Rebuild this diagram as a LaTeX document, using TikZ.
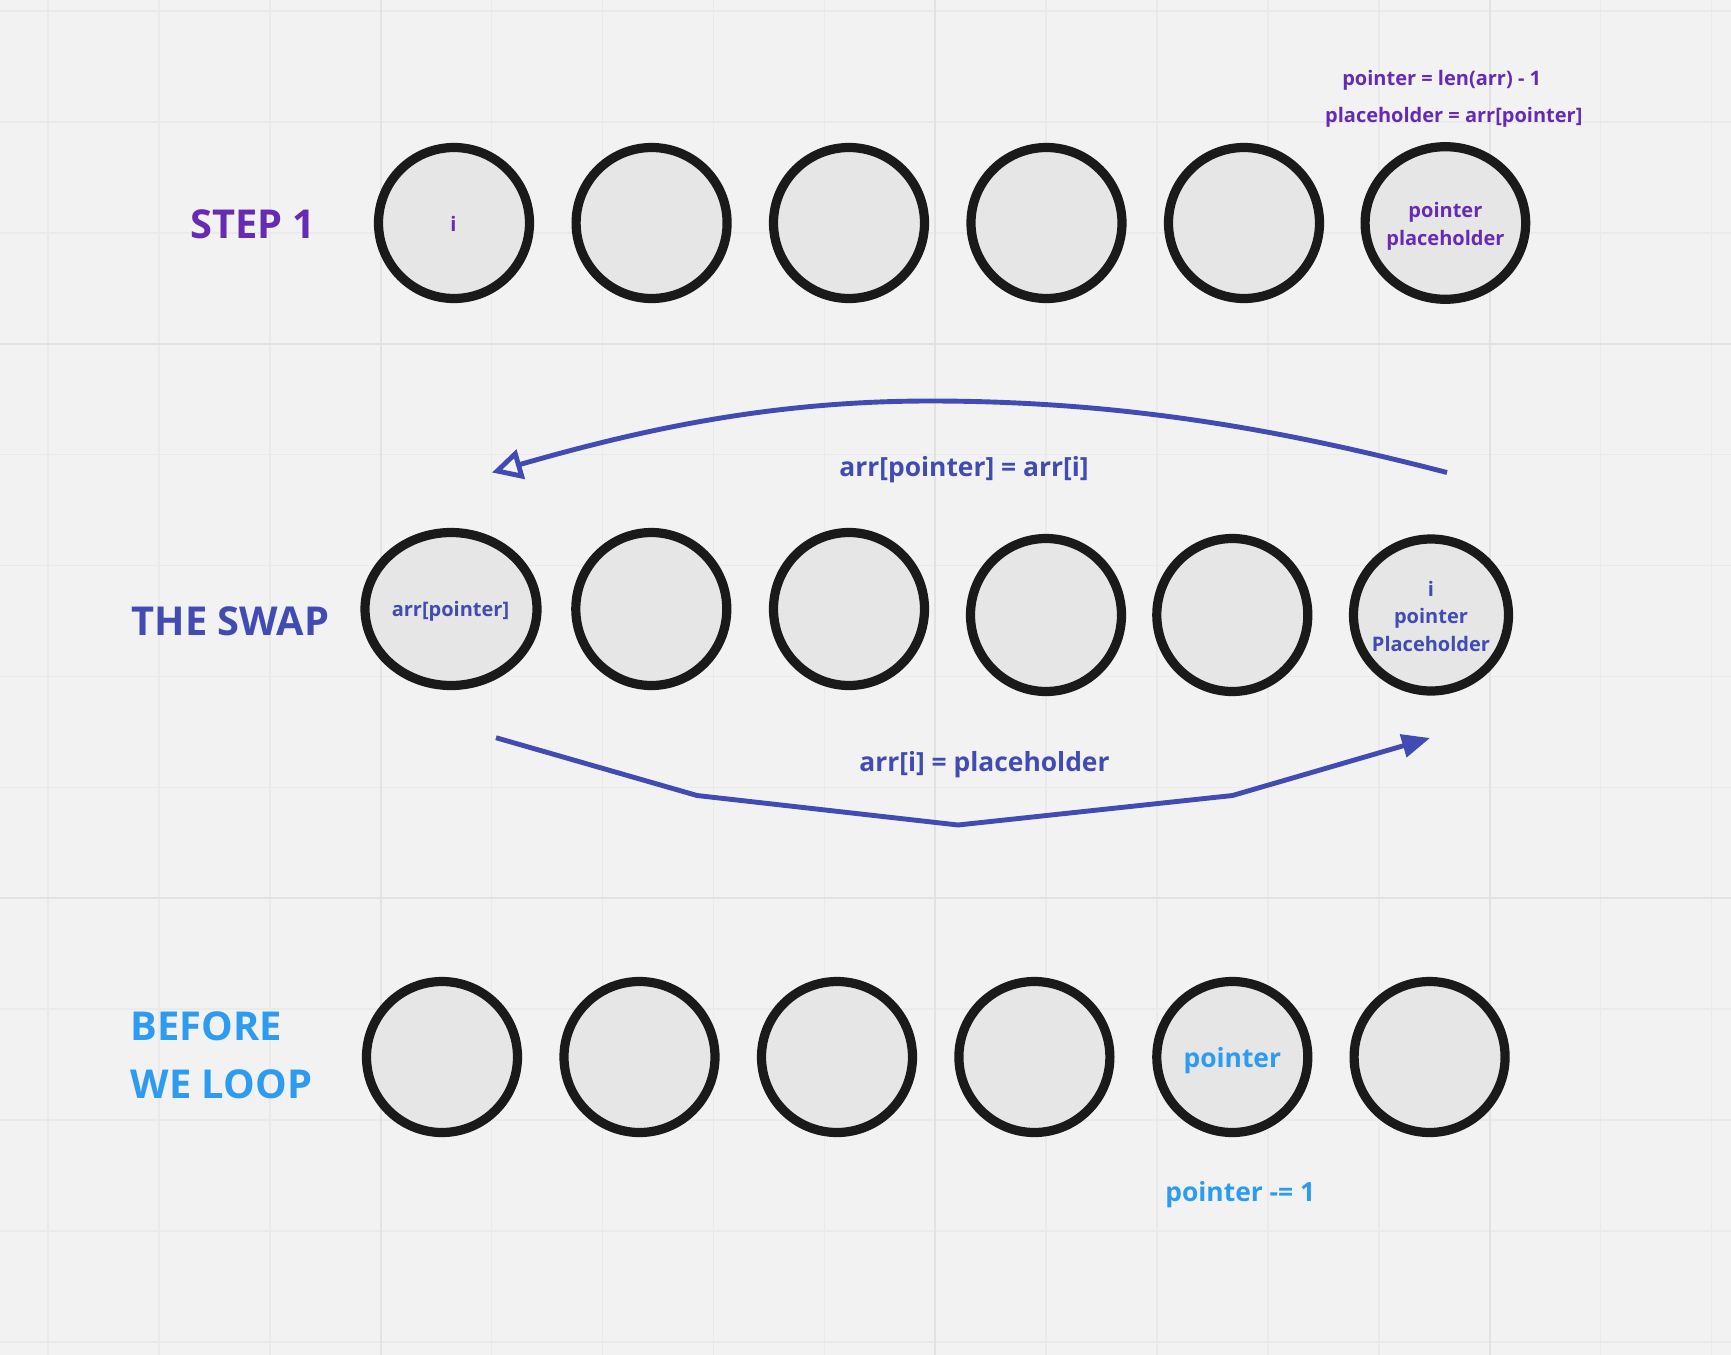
\documentclass[tikz,border=0pt]{standalone}
\usepackage{fontspec}
\setmainfont{Open Sans}
\usetikzlibrary{shapes.geometric,arrows.meta}
\definecolor{bg}{HTML}{F2F2F2}
\definecolor{gridminor}{HTML}{EAEAEA}
\definecolor{gridmajor}{HTML}{E2E2E2}
\definecolor{cellfill}{HTML}{E6E6E6}
\definecolor{ink}{HTML}{1A1A1A}
\definecolor{mpurple}{HTML}{652CB3}
\definecolor{mindigo}{HTML}{414BB2}
\definecolor{mblue}{HTML}{2D9BF0}
\tikzset{
  cell/.style={ellipse, draw=ink, fill=cellfill, line width=4.6pt, minimum width=75.5pt, minimum height=75.5pt, inner sep=0pt},
  small/.style={inner sep=0pt, align=center, font=\fontsize{10}{13.65}\selectfont\bfseries},
  medium/.style={inner sep=0pt, align=center, font=\fontsize{13.2}{17}\selectfont\bfseries},
  heading/.style={inner sep=0pt, font=\fontsize{19.9}{29}\selectfont\bfseries},
  conn/.style={draw=mindigo, line width=2.45pt, line join=round},
  gminor/.style={draw=gridminor, line width=0.75pt},
  gmajor/.style={draw=gridmajor, line width=0.9pt}
}
\begin{document}
\begin{tikzpicture}[x=0.5pt,y=-0.5pt]
\useasboundingbox (0,0) rectangle (1731,1355);
\fill[bg] (0,0) rectangle (1731,1355);
% grid
\foreach \k in {0,...,15} {\draw[gminor] ({48+110.9*\k},0) -- ({48+110.9*\k},1355);}
\foreach \k in {0,...,12} {\draw[gminor] (0,{11+110.9*\k}) -- (1731,{11+110.9*\k});}
\foreach \k in {3,8,13} {\draw[gmajor] ({48+110.9*\k},0) -- ({48+110.9*\k},1355);}
\foreach \k in {3,8} {\draw[gmajor] (0,{11+110.9*\k}) -- (1731,{11+110.9*\k});}

% headings
\node[heading, text=mpurple, anchor=base] (h1) at (253,238.3) {STEP 1};
\node[heading, text=mindigo, anchor=base] (h2) at (230.5,635) {THE SWAP};
\node[heading, text=mblue, anchor=base west] (h3a) at (130.5,1040) {BEFORE};
\node[heading, text=mblue, anchor=base west] (h3b) at (130.5,1098) {WE LOOP};

% row 1
\node[cell] (c11) at (454,223) {};
\node[cell] (c12) at (651.6,223) {};
\node[cell] (c13) at (849,223) {};
\node[cell] (c14) at (1046.5,223) {};
\node[cell] (c15) at (1244,223) {};
\node[cell, minimum width=80.3pt, minimum height=76.3pt] (c16) at (1445.4,223) {};
\node[small, text=mpurple, anchor=base] (t11) at (453.5,231) {i};
\node[small, text=mpurple] (t16) at (1445.4,226.3) {pointer\\placeholder};
\node[small, text=mpurple, anchor=base] (n1) at (1441.7,85) {pointer = len(arr) - 1};
\node[small, text=mpurple, anchor=base] (n2) at (1453.8,122.7) {placeholder = arr[pointer]};

% row 2
\node[cell, minimum width=86pt, minimum height=76.5pt] (c21) at (451,609) {};
\node[cell, minimum height=76.5pt] (c22) at (651.3,609) {};
\node[cell, minimum height=76.5pt] (c23) at (849,609) {};
\node[cell, minimum height=76.5pt] (c24) at (1046,615) {};
\node[cell, minimum height=76.5pt] (c25) at (1232.3,615) {};
\node[cell, minimum width=77.5pt, minimum height=76pt] (c26) at (1431,615) {};
\node[small, text=mindigo, anchor=base] (t21) at (450.5,616.7) {arr[pointer]};
\node[small, text=mindigo] (t26) at (1431,616.2) {i\\pointer\\Placeholder};

% row 3
\node[cell] (c31) at (442,1057) {};
\node[cell] (c32) at (639.5,1057) {};
\node[cell] (c33) at (837,1057) {};
\node[cell] (c34) at (1034.4,1057) {};
\node[cell] (c35) at (1232.3,1057) {};
\node[cell] (c36) at (1429.6,1057) {};
\node[medium, text=mblue, anchor=base] (t35) at (1232.3,1067) {pointer};
\node[medium, text=mblue, anchor=base] (n3) at (1240.3,1201.7) {pointer -= 1};

% upper arrow
\coordinate (upS) at (1447,472.5);
\coordinate (upM) at (930,401);
\coordinate (upE) at (492,472.5);
\draw[conn, -{Triangle[open, length=15pt, width=15pt, fill=bg]}]
  (upS) .. controls (1290,432) and (1130,401) .. (upM)
        .. controls (770,401) and (640,430) .. (upE);
\node[medium, text=mindigo, anchor=base] (l1) at (964,476) {arr[pointer] = arr[i]};

% lower arrow
\coordinate (loS) at (496,737.7);
\coordinate (lo1) at (697,795.5);
\coordinate (lo2) at (958,825);
\coordinate (lo3) at (1232.5,795.5);
\coordinate (loE) at (1430,738);
\draw[conn, -{Triangle[length=14pt, width=11.5pt]}] (loS) -- (lo1) -- (lo2) -- (lo3) -- (loE);
\node[medium, text=mindigo, anchor=base] (l2) at (984.5,771.7) {arr[i] = placeholder};
\end{tikzpicture}
\end{document}
